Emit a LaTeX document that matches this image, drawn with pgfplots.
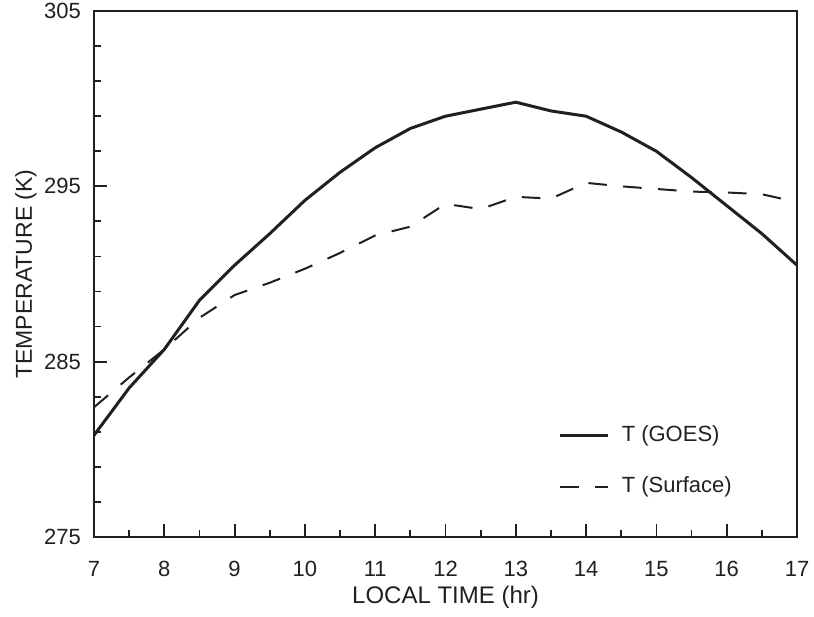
\documentclass[border=0pt]{standalone}
\usepackage{pgfplots}
\pgfplotsset{compat=1.18}
\usepackage{fontspec}
\setmainfont{Liberation Sans}
\definecolor{ink}{RGB}{35,31,32}
\begin{document}
\begin{tikzpicture}
\useasboundingbox (-47pt,-39.5pt) rectangle (360pt,268.5pt);
\begin{axis}[
  at={(0,0)}, anchor=south west,
  scale only axis, width=351.5pt, height=263pt,
  xmin=7, xmax=17, ymin=275, ymax=305,
  xtick={7,...,17}, ytick={275,285,295,305},
  minor x tick num=1, minor y tick num=4,
  tick pos=left, tick align=inside,
  major tick length=6.5pt, minor tick length=3.5pt,
  every tick/.style={line width=0.9pt, ink},
  axis line style={line width=1pt, ink},
  /pgf/number format/assume math mode=true,
  ticklabel style={font=\fontsize{11}{13}\selectfont, text=ink},
  xticklabel style={yshift=-8.5pt},
  yticklabel style={xshift=-3pt},
  xlabel={LOCAL TIME (hr)}, ylabel={TEMPERATURE (K)},
  x label style={font=\fontsize{12}{14}\selectfont, text=ink,
    at={(axis description cs:0.5,0)}, anchor=center, yshift=-30pt},
  y label style={font=\fontsize{11.5}{13}\selectfont, text=ink,
    at={(axis description cs:-0.097,0.5)}, anchor=center},
  legend style={at={(rel axis cs:0.652,0.228)}, anchor=north west, draw=none, fill=none,
    font=\fontsize{11}{13}\selectfont, text=ink, row sep=11pt, column sep=4pt,
    nodes={text height=8pt, text depth=2.5pt}, cells={anchor=west}},
  legend image code/.code={\draw[#1] (0pt,0pt) -- (24pt,0pt);},
]
\addplot[ink, line width=1.5pt] coordinates {
(7,280.8) (7.5,283.5) (8,285.7) (8.5,288.5) (9,290.5) (9.5,292.3) (10,294.2)
(10.5,295.8) (11,297.2) (11.5,298.3) (12,299.0) (12.5,299.4) (13,299.8)
(13.5,299.3) (14,299.0) (14.5,298.1) (15,297.0) (15.5,295.5) (16,293.9)
(16.5,292.3) (17,290.5)};
\addlegendentry{T (GOES)}
\addplot[ink, line width=1pt, dash pattern=on 9.25pt off 8.25pt] coordinates {
(7,282.4) (7.5,284.1) (8,285.7) (8.5,287.5) (9,288.8) (9.5,289.5) (10,290.3)
(10.5,291.2) (11,292.2) (11.5,292.7) (12,294.0) (12.5,293.7) (13,294.4)
(13.5,294.3) (14,295.2) (14.5,295.0) (15,294.85) (15.5,294.7) (16,294.65)
(16.5,294.55) (17,294.1)};
\addlegendentry{T (Surface)}
\end{axis}
\end{tikzpicture}
\end{document}
